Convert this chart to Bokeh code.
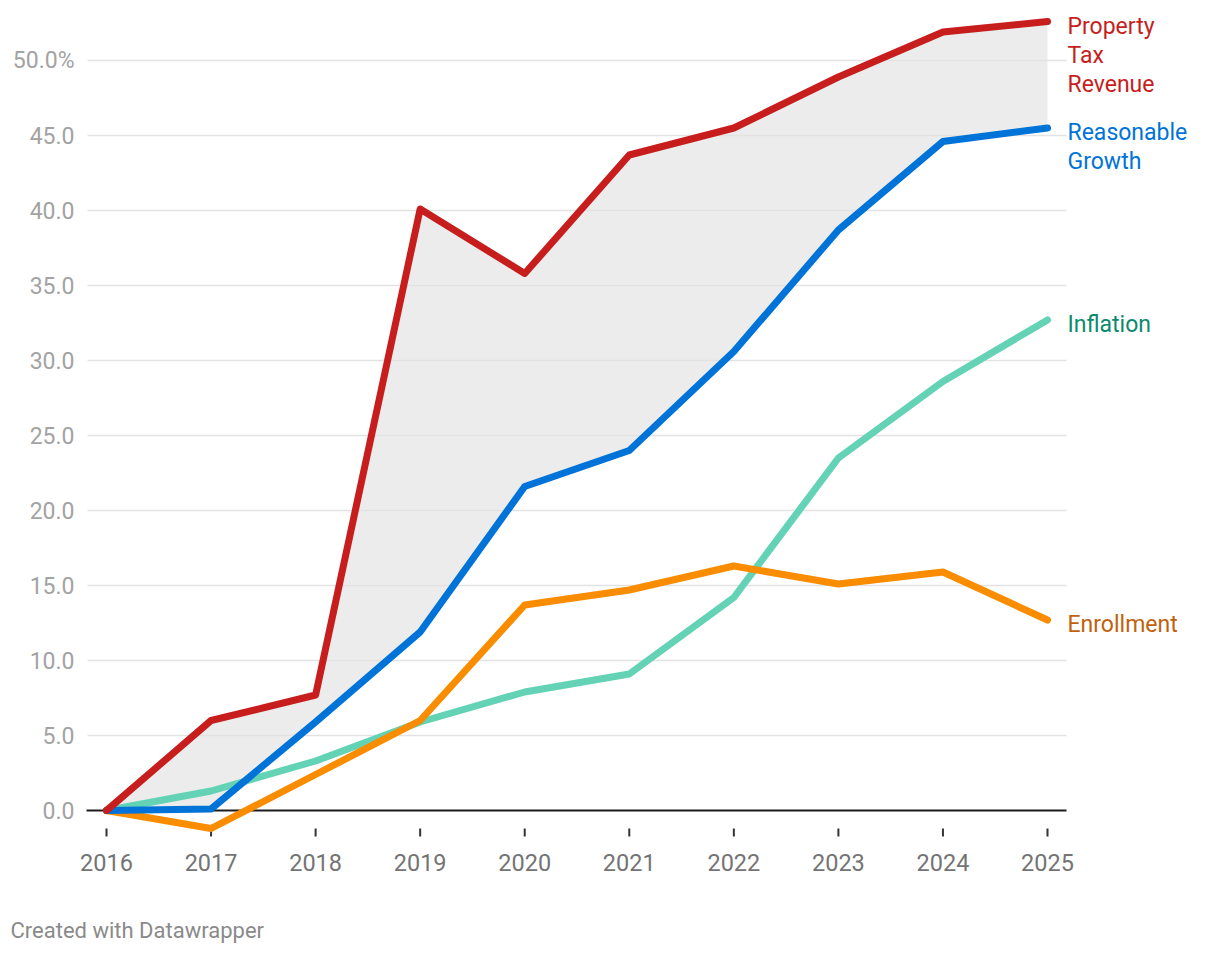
from bokeh.plotting import figure
from bokeh.models import Range1d
from bokeh.core.properties import value
from bokeh.embed import file_html
from bokeh.resources import INLINE

# ---- data ----
years = [2016, 2017, 2018, 2019, 2020, 2021, 2022, 2023, 2024, 2025]
property_tax = [0.0, 6.0, 7.7, 40.1, 35.8, 43.7, 45.5, 48.9, 51.9, 52.6]
reasonable_growth = [0.0, 0.1, 5.9, 11.9, 21.6, 24.0, 30.6, 38.7, 44.6, 45.5]
inflation = [0.0, 1.3, 3.3, 5.9, 7.9, 9.1, 14.2, 23.5, 28.6, 32.7]
enrollment = [0.0, -1.2, 2.4, 6.0, 13.7, 14.7, 16.3, 15.1, 15.9, 12.7]

y_ticks = [0, 5, 10, 15, 20, 25, 30, 35, 40, 45, 50]
y_tick_labels = ["0.0", "5.0", "10.0", "15.0", "20.0", "25.0", "30.0", "35.0", "40.0", "45.0", "50.0%"]
x_tick_labels = [str(y) for y in years]

series_names = ["Inflation", "Enrollment", "Reasonable\nGrowth", "Property\nTax\nRevenue"]
series_values = [inflation, enrollment, reasonable_growth, property_tax]
line_colors = ["#63d2b5", "#fa8c00", "#0073d9", "#c71e1d"]
label_colors = ["#0b8a6d", "#c2610c", "#0073d9", "#c71e1d"]

# ---- layout helpers (pixel geometry of the canvas) ----
W, H = 1220, 954
X_FIRST_PX, X_LAST_PX = 106, 1047
Y_ZERO_PX, Y_50_PX = 810, 60
ppx = (X_LAST_PX - X_FIRST_PX) / (years[-1] - years[0])   # px per year
ppy = (Y_ZERO_PX - Y_50_PX) / 50.0                       # px per unit

def xd(px):
    return years[0] + (px - X_FIRST_PX) / ppx

def yd(py):
    return (Y_ZERO_PX - py) / ppy

FONT = "Roboto"

p = figure(width=W, height=H,
           x_range=Range1d(xd(0), xd(W)), y_range=Range1d(yd(H), yd(0)),
           output_backend="svg", toolbar_location=None, min_border=0)
p.axis.visible = False
p.grid.visible = False
p.outline_line_color = None
p.background_fill_color = "white"
p.border_fill_color = "white"

# shaded area between property tax and reasonable growth
p.varea(x=years, y1=reasonable_growth, y2=property_tax, fill_color="#e6e6e6", fill_alpha=0.75)

# gridlines
grid_x0, grid_x1 = xd(87), xd(1066)
p.segment(x0=[grid_x0] * (len(y_ticks) - 1), x1=[grid_x1] * (len(y_ticks) - 1),
          y0=y_ticks[1:], y1=y_ticks[1:], line_color="#e2e2e2", line_width=1.5)
# zero baseline
p.segment(x0=[xd(86)], x1=[grid_x1], y0=[0], y1=[0], line_color="#1d1d1d", line_width=2)

# y tick labels
p.text(x=[grid_x0] * len(y_ticks), y=y_ticks, text=y_tick_labels,
       x_offset=-13, text_align="right", text_baseline="middle",
       text_font=value(FONT), text_font_size="23px", text_color="#a3a3a3")

# x tick marks and labels
p.segment(x0=years, x1=years, y0=[yd(828)] * len(years), y1=[yd(836)] * len(years),
          line_color="#333333", line_width=2)
p.text(x=years, y=[yd(862)] * len(years), text=x_tick_labels,
       text_align="center", text_baseline="middle",
       text_font=value(FONT), text_font_size="23.5px", text_color="#747474")

# series lines
for vals, col in zip(series_values, line_colors):
    p.line(years, vals, line_color=col, line_width=7, line_cap="round", line_join="round")

# direct labels
p.text(x=[years[-1]] * 4, y=[v[-1] for v in series_values], text=series_names,
       x_offset=20, y_offset=-9, text_align="left", text_baseline="top",
       text_line_height=1.08, text_font=value(FONT), text_font_size="23px",
       text_color=label_colors)

# credit
p.text(x=[xd(10)], y=[yd(930)], text=["Created with Datawrapper"],
       text_align="left", text_baseline="middle",
       text_font=value(FONT), text_font_size="22px", text_color="#8a8a8a")

open("out.html", "w").write(file_html(p, INLINE))
